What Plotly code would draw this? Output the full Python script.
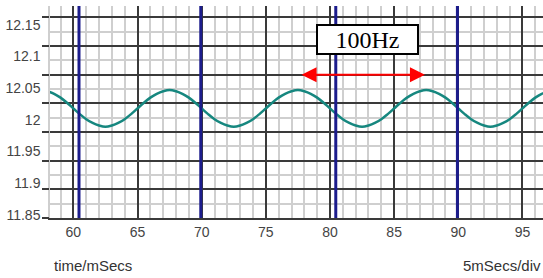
import plotly.graph_objects as go

# ---- data ----
time_ms = [58.0, 58.5, 59.0, 59.5, 60.0, 60.5, 61.0, 61.5, 62.0, 62.5,
           63.0, 63.5, 64.0, 64.5, 65.0, 65.5, 66.0, 66.5, 67.0, 67.5,
           68.0, 68.5, 69.0, 69.5, 70.0, 70.5, 71.0, 71.5, 72.0, 72.5,
           73.0, 73.5, 74.0, 74.5, 75.0, 75.5, 76.0, 76.5, 77.0, 77.5,
           78.0, 78.5, 79.0, 79.5, 80.0, 80.5, 81.0, 81.5, 82.0, 82.5,
           83.0, 83.5, 84.0, 84.5, 85.0, 85.5, 86.0, 86.5, 87.0, 87.5,
           88.0, 88.5, 89.0, 89.5, 90.0, 90.5, 91.0, 91.5, 92.0, 92.5,
           93.0, 93.5, 94.0, 94.5, 95.0, 95.5, 96.0, 96.5, 97.0]
voltage = [12.045, 12.041, 12.035, 12.027, 12.018, 12.009, 12.001, 11.995, 11.991, 11.989,
           11.991, 11.995, 12.001, 12.009, 12.018, 12.027, 12.035, 12.041, 12.045, 12.047,
           12.045, 12.041, 12.035, 12.027, 12.018, 12.009, 12.001, 11.995, 11.991, 11.989,
           11.991, 11.995, 12.001, 12.009, 12.018, 12.027, 12.035, 12.041, 12.045, 12.047,
           12.045, 12.041, 12.035, 12.027, 12.018, 12.009, 12.001, 11.995, 11.991, 11.989,
           11.991, 11.995, 12.001, 12.009, 12.018, 12.027, 12.035, 12.041, 12.045, 12.047,
           12.045, 12.041, 12.035, 12.027, 12.018, 12.009, 12.001, 11.995, 11.991, 11.989,
           11.991, 11.995, 12.001, 12.009, 12.018, 12.027, 12.035, 12.041, 12.045]
cursor_ms = [60.44, 69.93, 80.45, 89.93]
y_tick_vals = [11.85, 11.9, 11.95, 12.0, 12.05, 12.1, 12.15]
y_tick_text = ["11.85", "11.9", "11.95", "12", "12.05", "12.1", "12.15"]
arrow_ms = [77.67, 87.40]
freq_label = "100Hz"
x_title = "time/mSecs"
scale_label = "5mSecs/div"

sans = "Liberation Sans, Arial, sans-serif"
MAJOR = "#3a3a3a"
MINOR = "#cfcfcf"

fig = go.Figure()
fig.add_trace(go.Scatter(
    x=time_ms, y=voltage, mode="lines",
    line=dict(color="#16877f", width=2.5, shape="spline"),
    hoverinfo="skip"))
# invisible trace to anchor the grid axis
fig.add_trace(go.Scatter(x=[arrow_ms[0]], y=[5], yaxis="y2", mode="none",
                         hoverinfo="skip"))

for xv in cursor_ms:
    fig.add_shape(type="line", xref="x", yref="paper", x0=xv, x1=xv, y0=0, y1=1,
                  line=dict(color="#1c1c8c", width=3), layer="above")

fig.add_annotation(x=arrow_ms[1], y=5, ax=arrow_ms[0], ay=5,
                   xref="x", yref="y2", axref="x", ayref="y2",
                   text="", showarrow=True, arrowside="end+start",
                   arrowhead=2, startarrowhead=2, arrowsize=1.5, startarrowsize=1.5,
                   arrowwidth=2, arrowcolor="#ff0000")
fig.add_annotation(x=82.93, y=6.22, xref="x", yref="y2", text=freq_label,
                   showarrow=False, xanchor="center", yanchor="middle",
                   font=dict(family="Liberation Serif, Times New Roman, serif", size=24, color="black"),
                   bgcolor="white", bordercolor="black", borderwidth=2, borderpad=1,
                   width=97, height=25)
fig.add_annotation(x=0.0035, y=-0.222, xref="paper", yref="paper", text=x_title,
                   showarrow=False, xanchor="left", yanchor="middle",
                   font=dict(family=sans, size=15, color="#333"))
fig.add_annotation(x=1, y=-0.222, xref="paper", yref="paper", text=scale_label,
                   showarrow=False, xanchor="right", yanchor="middle",
                   font=dict(family=sans, size=15, color="#333"))

fig.update_layout(
    width=543, height=278,
    margin=dict(l=50, r=0, t=6, b=60),
    plot_bgcolor="white", paper_bgcolor="white",
    showlegend=False,
    xaxis=dict(range=[58.18, 96.6], tick0=60, dtick=5,
               showgrid=True, gridcolor=MAJOR, gridwidth=1.5,
               minor=dict(dtick=1, showgrid=True, gridcolor=MINOR, gridwidth=1.5),
               zeroline=False, ticks="", showline=True, linecolor=MAJOR, linewidth=1.5,
               tickfont=dict(family=sans, size=14, color="#444")),
    yaxis=dict(range=[11.8449, 12.1797], tickvals=y_tick_vals, ticktext=y_tick_text,
               showgrid=False, zeroline=False, ticks="outside", ticklen=5,
               tickcolor="rgba(0,0,0,0)", showline=True, linecolor=MINOR, linewidth=1.5,
               tickfont=dict(family=sans, size=14, color="#444")),
    yaxis2=dict(overlaying="y", side="left", range=[0, 7.394], tick0=0, dtick=1,
                showgrid=True, gridcolor=MAJOR, gridwidth=1.5,
                minor=dict(dtick=0.5, showgrid=True, gridcolor=MINOR, gridwidth=1.5),
                showticklabels=False, ticks="outside", ticklen=7, tickcolor=MAJOR,
                tickwidth=1.5, zeroline=False, showline=False),
)

fig.write_html("out.html", config={"displayModeBar": False},
               post_script="document.body.style.margin='0';document.body.style.padding='0';document.body.style.overflow='hidden';")
